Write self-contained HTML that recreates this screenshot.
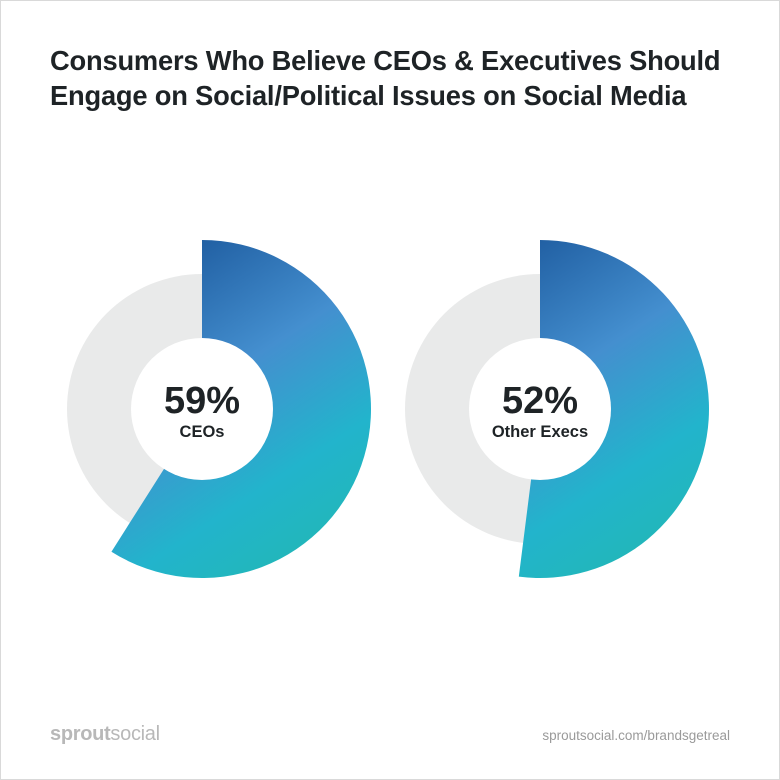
<!DOCTYPE html>
<html><head><meta charset="utf-8">
<style>
html,body{margin:0;padding:0;background:#fff;}
#wrap{position:relative;width:778px;height:778px;border:1px solid #d9d9d9;font-family:"Liberation Sans",sans-serif;overflow:hidden;}
#title{position:absolute;left:49px;top:42px;font-size:27.3px;font-weight:bold;color:#1e2326;line-height:35px;letter-spacing:-0.2px;}
#logo{position:absolute;left:49px;top:722px;font-size:20px;color:#b8b8b8;letter-spacing:-0.3px;}
#url{position:absolute;right:49px;top:727px;font-size:13.5px;color:#9a9a9a;}
svg{position:absolute;left:0;top:0;}
</style></head>
<body>
<div id="wrap">
<div id="title">Consumers Who Believe CEOs &amp; Executives Should<br>Engage on Social/Political Issues on Social Media</div>
<svg id="chart" width="778" height="778">
<defs>
<linearGradient id="g0" gradientUnits="userSpaceOnUse" x1="150" y1="240" x2="360" y2="560">
<stop offset="0" stop-color="#1a569a"/>
<stop offset="0.4" stop-color="#448fcf"/>
<stop offset="0.7" stop-color="#22b4cc"/>
<stop offset="0.92" stop-color="#22b7b8"/>
<stop offset="1" stop-color="#2dbb6e"/>
</linearGradient>
<linearGradient id="g1" gradientUnits="userSpaceOnUse" x1="488" y1="240" x2="698" y2="560">
<stop offset="0" stop-color="#1a569a"/>
<stop offset="0.4" stop-color="#448fcf"/>
<stop offset="0.7" stop-color="#22b4cc"/>
<stop offset="0.92" stop-color="#22b7b8"/>
<stop offset="1" stop-color="#2dbb6e"/>
</linearGradient>
</defs>
</svg>
<div id="logo"><b>sprout</b>social</div>
<div id="url">sproutsocial.com/brandsgetreal</div>
</div>
<script>
const categories = ["CEOs", "Other Execs"];
const percents = [59, 52];
const labels = ["59%", "52%"];
const centersX = [201, 539];
const cy = 408, rOuter = 169, rGrey = 135, rHole = 71;
const svg = document.getElementById('chart');
const NS = 'http://www.w3.org/2000/svg';
function angle(p){ return p/100*2*Math.PI; }
function pt(cx, r, a){ return [cx + r*Math.sin(a), cy - r*Math.cos(a)]; }
categories.forEach((c, i) => {
  const cx = centersX[i];
  const g = document.createElementNS(NS, 'g');
  
  
  const bg = document.createElementNS(NS, 'circle');
  
  
  bg.setAttribute('cx', cx); bg.setAttribute('cy', cy); bg.setAttribute('r', rGrey);
  bg.setAttribute('fill', '#e9eaea');
  g.appendChild(bg);
  const a = angle(percents[i]);
  const p0 = pt(cx, rOuter, 0), p1 = pt(cx, rOuter, a);
  const large = a > Math.PI ? 1 : 0;
  const path = document.createElementNS(NS, 'path');
  
  
  path.setAttribute('d', `M${cx},${cy} L${p0[0]},${p0[1]} A${rOuter},${rOuter} 0 ${large} 1 ${p1[0]},${p1[1]} Z`);
  path.setAttribute('fill', 'url(#g' + i + ')');
  g.appendChild(path);
  const hole = document.createElementNS(NS, 'circle');
  
  
  hole.setAttribute('cx', cx); hole.setAttribute('cy', cy); hole.setAttribute('r', rHole);
  hole.setAttribute('fill', '#fff');
  g.appendChild(hole);
  const t = document.createElementNS(NS, 'text');
  
  
  t.setAttribute('x', cx); t.setAttribute('y', cy + 4);
  t.setAttribute('text-anchor', 'middle');
  t.setAttribute('font-size', '38'); t.setAttribute('font-weight', 'bold');
  t.setAttribute('fill', '#1e2326'); t.setAttribute('font-family', 'Liberation Sans, sans-serif');
  t.textContent = labels[i];
  g.appendChild(t);
  const l = document.createElementNS(NS, 'text');
  
  
  l.setAttribute('x', cx); l.setAttribute('y', cy + 28);
  l.setAttribute('text-anchor', 'middle');
  l.setAttribute('font-size', '16.5'); l.setAttribute('font-weight', 'bold');
  l.setAttribute('fill', '#1e2326'); l.setAttribute('font-family', 'Liberation Sans, sans-serif');
  l.textContent = c;
  g.appendChild(l);
  svg.appendChild(g);
});
</script>
</body></html>
